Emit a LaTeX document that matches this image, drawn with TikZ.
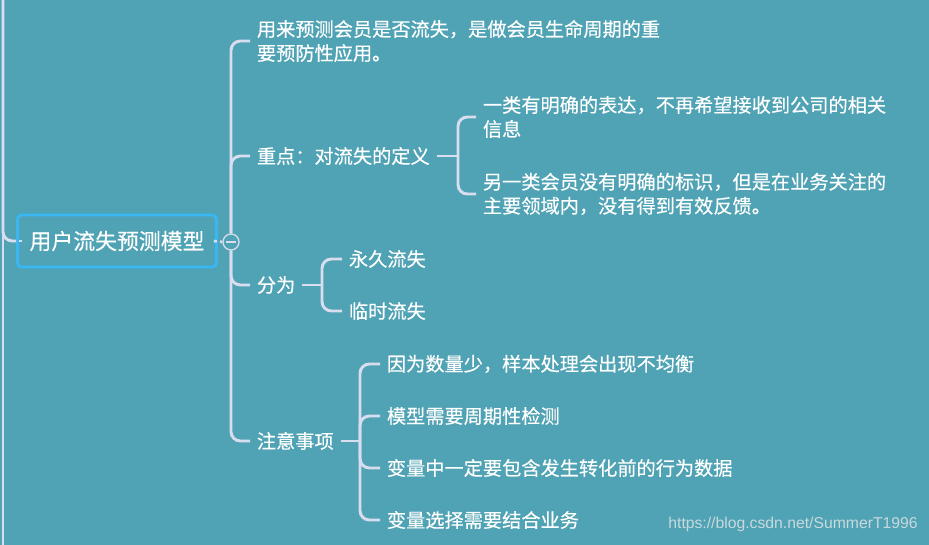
\documentclass[tikz,border=0pt]{standalone}
\usepackage{fontspec}
\newfontfamily\cjk[FakeBold=0.35]{Noto Sans CJK SC}
\setsansfont{Liberation Sans}
\usepackage{xcolor}
\usepackage{tikz}

\definecolor{bgteal}{HTML}{4FA3B4}
\definecolor{linec}{HTML}{D8DDEF}
\definecolor{rootblue}{HTML}{3AB6F2}
\definecolor{markgray}{HTML}{C9D9DD}

\tikzset{
  conn/.style={line width=2.2pt, linec, rounded corners=7pt},
  topic/.style={anchor=west, text=white, inner xsep=5pt, align=left,
    font=\cjk\fontsize{14.4}{18}\selectfont},
}

\begin{document}
\begin{tikzpicture}[x=0.75pt,y=-0.75pt]
    \fill[bgteal] (0,0) rectangle (929,545);
    \useasboundingbox (0,0) rectangle (929,545);
    % root and its toggle
    \node[draw=rootblue, line width=2.2pt, rounded corners=3pt, text=white,
      minimum width=149pt, minimum height=39pt,
      font=\cjk\fontsize{16.4}{20}\selectfont] (root) at (117,241) {用户流失预测模型};
    \node[circle, draw=linec, line width=1pt, fill=bgteal, minimum size=12pt, inner sep=0pt] (toggle) at (231,242) {};
    \draw[linec, line width=1.2pt] ([xshift=-3.8pt]toggle.center) -- ([xshift=3.8pt]toggle.center);
    \coordinate (up) at (3,0);
    \coordinate (down) at (3,545);
    \draw[conn] (up) -- (down);
    \draw[conn] (up) |- (root.west);
    \draw[linec, line width=2pt] ([xshift=2.3pt]root.west) -- ([xshift=4.6pt]root.west);
    \draw[linec, line width=2pt, dash pattern=on 2.3pt off 2.3pt] ([xshift=-3pt]root.east) -- (toggle.west);
    % first level
    \node[topic] (use) at (250,41) {用来预测会员是否流失，是做会员生命周期的重\\要预防性应用。};
    \node[topic] (focus) at (250,156) {重点：对流失的定义};
    \node[topic] (split) at (250,285) {分为};
    \node[topic] (note) at (250,441) {注意事项};
    \draw[conn] (toggle.north) |- (use.west);
    \draw[conn] (toggle.north) |- (focus.west);
    \draw[conn] (toggle.south) |- (split.west);
    \draw[conn] (toggle.south) |- (note.west);
    % definition of churn
    \coordinate (fj) at (458,156);
    \node[topic] (clear) at (476,117) {一类有明确的表达，不再希望接收到公司的相关\\信息};
    \node[topic] (vague) at (476,194) {另一类会员没有明确的标识，但是在业务关注的\\主要领域内，没有得到有效反馈。};
    \draw[conn] (focus.east) -- (fj);
    \draw[conn] (fj) |- (clear.west);
    \draw[conn] (fj) |- (vague.west);
    % kinds of churn
    \coordinate (sj) at (322,285);
    \node[topic] (perm) at (342,259) {永久流失};
    \node[topic] (temp) at (342,311) {临时流失};
    \draw[conn] (split.east) -- (sj);
    \draw[conn] (sj) |- (perm.west);
    \draw[conn] (sj) |- (temp.west);
    % notes
    \coordinate (nj) at (360,441);
    \node[topic] (n1) at (380,364) {因为数量少，样本处理会出现不均衡};
    \node[topic] (n2) at (380,416) {模型需要周期性检测};
    \node[topic] (n3) at (380,468) {变量中一定要包含发生转化前的行为数据};
    \node[topic] (n4) at (380,520) {变量选择需要结合业务};
    \draw[conn] (note.east) -- (nj);
    \foreach \n in {n1,n2,n3,n4}
        \draw[conn] (nj) |- (\n.west);
    \node[text=markgray, font=\sffamily\fontsize{11.8}{14}\selectfont] (mark) at (793,524) {https://blog.csdn.net/SummerT1996};
\end{tikzpicture}
\end{document}
